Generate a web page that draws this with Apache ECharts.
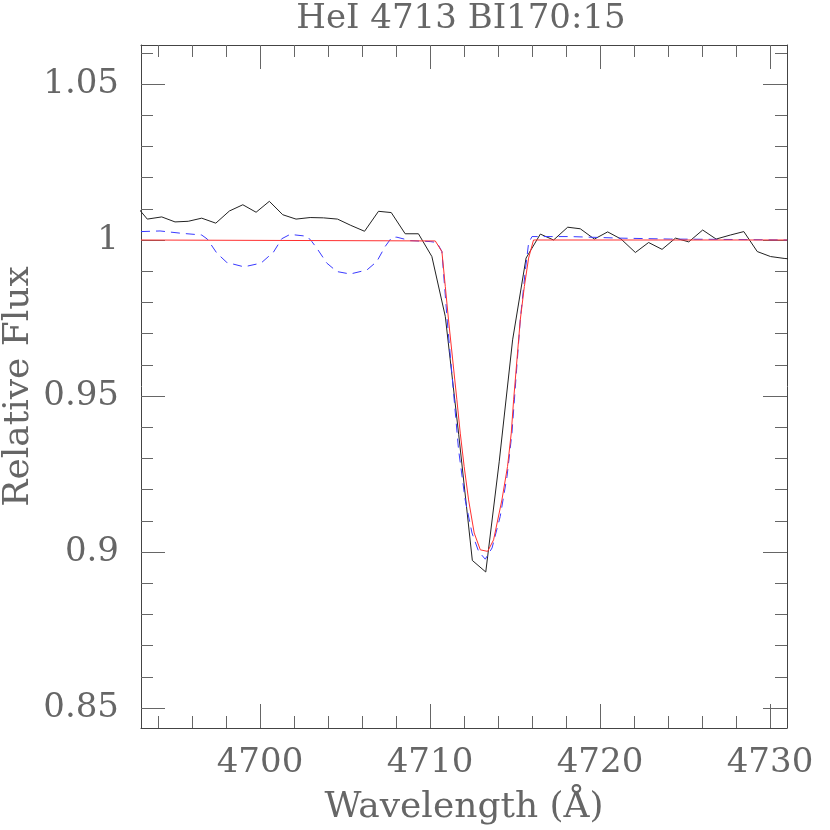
<!doctype html>
<html>
<head>
<meta charset="UTF-8">
<title>HeI 4713 BI170:15</title>
<script src="https://cdn.jsdelivr.net/npm/echarts@6/dist/echarts.min.js"></script>
<style>
    html, body { margin: 0; padding: 0; background: #fff; }
    #main { width: 830px; height: 830px; }
</style>
</head>
<body>
<div id="main"></div>
<script>
    // observed spectrum (black)
    var obsWave = [4692.57, 4693.37, 4694.22, 4695.00, 4695.78, 4696.57, 4697.40, 4698.20, 4698.99, 4699.77,
        4700.55, 4701.34, 4702.12, 4702.95, 4703.73, 4704.56, 4705.34, 4706.15, 4706.97, 4707.72,
        4708.54, 4709.32, 4710.11, 4710.90, 4711.69, 4712.49, 4713.28, 4714.07, 4714.86, 4715.65,
        4716.49, 4717.27, 4718.10, 4718.84, 4719.67, 4720.45, 4721.24, 4722.08, 4722.86, 4723.65,
        4724.44, 4725.22, 4726.04, 4726.83, 4727.67, 4728.46, 4729.25, 4730.03, 4730.83, 4731.62];
    var obsFlux = [1.0119, 1.0067, 1.0074, 1.0058, 1.0060, 1.0070, 1.0054, 1.0093, 1.0113, 1.0089,
        1.0124, 1.0081, 1.0067, 1.0072, 1.0071, 1.0067, 1.0047, 1.0028, 1.0092, 1.0088,
        1.0020, 1.0020, 0.9947, 0.9755, 0.9376, 0.8973, 0.8936, 0.9289, 0.9680, 0.9942,
        1.0019, 1.0000, 1.0041, 1.0036, 1.0003, 1.0026, 1.0003, 0.9960, 0.9992, 0.9970,
        1.0006, 0.9994, 1.0032, 1.0003, 1.0016, 1.0027, 0.9963, 0.9947, 0.9941, 0.9937];

    // fitted model (red)
    var fitWave = [4693.00, 4710.31, 4710.70, 4710.90, 4711.09, 4711.58, 4711.78, 4712.01, 4712.27, 4712.60,
        4712.96, 4713.39, 4713.74, 4714.23, 4714.56, 4714.78, 4714.92, 4715.31, 4715.55, 4715.80,
        4716.09, 4731.00];
    var fitFlux = [1.0000, 0.9997, 0.9963, 0.9851, 0.9744, 0.9488, 0.9381, 0.9274, 0.9167, 0.9061,
        0.9007, 0.9002, 0.9039, 0.9167, 0.9274, 0.9381, 0.9488, 0.9744, 0.9851, 0.9942,
        1.0000, 1.0000];

    // synthetic spectrum (blue dashed)
    var synWave = [4693.00, 4694.12, 4695.30, 4696.57, 4696.90, 4697.46, 4698.05, 4699.06, 4700.06, 4700.79,
        4701.28, 4701.77, 4702.77, 4703.05, 4703.34, 4703.93, 4704.52, 4705.30, 4706.29, 4706.87,
        4707.36, 4707.76, 4708.05, 4708.84, 4710.01, 4710.41, 4710.70, 4711.01, 4711.68, 4712.07,
        4712.47, 4712.86, 4713.25, 4713.65, 4714.13, 4714.53, 4714.82, 4715.31, 4715.61, 4715.80,
        4716.00, 4718.25, 4721.20, 4724.14, 4727.09, 4731.00];
    var synFlux = [1.0027, 1.0029, 1.0022, 1.0016, 1.0003, 0.9958, 0.9928, 0.9914, 0.9926, 0.9961,
        1.0004, 1.0018, 1.0012, 0.9995, 0.9974, 0.9926, 0.9899, 0.9891, 0.9904, 0.9931,
        0.9979, 1.0009, 1.0009, 0.9998, 0.9995, 0.9992, 0.9963, 0.9744, 0.9328, 0.9167,
        0.9061, 0.9002, 0.8977, 0.9013, 0.9114, 0.9242, 0.9381, 0.9744, 0.9904, 0.9990,
        1.0011, 1.0011, 1.0006, 1.0003, 1.0002, 1.0000];

    var xMajor = [4700, 4710, 4720, 4730];
    var xMinor = [4694, 4696, 4698, 4700, 4702, 4704, 4706, 4708, 4710, 4712, 4714, 4716, 4718,
        4720, 4722, 4724, 4726, 4728, 4730];
    var yMajor = [0.85, 0.9, 0.95, 1, 1.05];
    var yMinor = [0.85, 0.86, 0.87, 0.88, 0.89, 0.9, 0.91, 0.92, 0.93, 0.94, 0.95, 0.96, 0.97,
        0.98, 0.99, 1, 1.01, 1.02, 1.03, 1.04, 1.05, 1.06];

    var font = 'DejaVu Serif';
    var textColor = '#666';
    var xMin = 4693, xMax = 4731, yMin = 0.8436, yMax = 1.0625;

    function pairs(xs, ys) {
        var out = [];
        for (var i = 0; i < xs.length; i++) out.push([xs[i], ys[i]]);
        return out;
    }

    function xAxisDef(pos, ticks, len, opts) {
        var a = {
            type: 'value', position: pos, min: xMin, max: xMax,
            splitLine: {show: false},
            axisLine: {show: false},
            axisTick: {show: true, inside: true, length: len, customValues: ticks,
                lineStyle: {color: '#666', width: 1}},
            axisLabel: {show: false}
        };
        for (var k in opts) a[k] = opts[k];
        return a;
    }

    function yAxisDef(pos, ticks, len, opts) {
        var a = {
            type: 'value', position: pos, min: yMin, max: yMax,
            splitLine: {show: false},
            axisLine: {show: false},
            axisTick: {show: true, inside: true, length: len, customValues: ticks,
                lineStyle: {color: '#666', width: 1}},
            axisLabel: {show: false}
        };
        for (var k in opts) a[k] = opts[k];
        return a;
    }

    var frame = {show: true, onZero: false, lineStyle: {color: '#444', width: 1}};

    var myChart = echarts.init(document.getElementById('main'));
    var option = {
        animation: false,
        backgroundColor: '#fff',
        title: {
            text: 'HeI 4713 BI170:15',
            left: 456,
            textAlign: 'center',
            top: -3,
            textStyle: {fontFamily: font, fontSize: 34, fontWeight: 'normal', color: textColor}
        },
        grid: {left: 141, right: 43, top: 45, bottom: 102, containLabel: false, outerBoundsMode: 'none'},
        xAxis: [
            xAxisDef('bottom', xMinor, 12, {
                axisLine: frame,
                axisLabel: {show: true, customValues: xMajor, margin: 18,
                    fontFamily: font, fontSize: 34, color: textColor,
                    formatter: function (v) { return String(v); }},
                name: 'Wavelength (Å)',
                nameLocation: 'middle',
                nameGap: 62,
                nameMoveOverlap: false,
                nameTextStyle: {fontFamily: font, fontSize: 36, color: textColor}
            }),
            xAxisDef('bottom', xMajor, 24, {}),
            xAxisDef('top', xMinor, 12, {axisLine: frame}),
            xAxisDef('top', xMajor, 24, {})
        ],
        yAxis: [
            yAxisDef('left', yMinor, 12, {
                axisLine: frame,
                axisLabel: {show: true, customValues: yMajor, margin: 22,
                    fontFamily: font, fontSize: 34, color: textColor,
                    formatter: function (v) { return String(+v.toFixed(2)); }},
                name: 'Relative Flux',
                nameLocation: 'middle',
                nameGap: 104,
                nameMoveOverlap: false,
                nameTextStyle: {fontFamily: font, fontSize: 36, color: textColor}
            }),
            yAxisDef('left', yMajor, 24, {}),
            yAxisDef('right', yMinor, 12, {axisLine: frame}),
            yAxisDef('right', yMajor, 24, {})
        ],
        series: [
            {
                name: 'observed', type: 'line', xAxisIndex: 0, yAxisIndex: 0,
                data: pairs(obsWave, obsFlux), showSymbol: false, clip: true,
                lineStyle: {color: '#222', width: 1}
            },
            {
                name: 'synthetic', type: 'line', xAxisIndex: 0, yAxisIndex: 0,
                data: pairs(synWave, synFlux), showSymbol: false, clip: true,
                lineStyle: {color: '#3a3aff', width: 1, type: [9, 6]}
            },
            {
                name: 'fit', type: 'line', xAxisIndex: 0, yAxisIndex: 0,
                data: pairs(fitWave, fitFlux), showSymbol: false, clip: true,
                lineStyle: {color: '#ff3030', width: 1}
            }
        ]
    };
    myChart.setOption(option);
</script>
</body>
</html>
